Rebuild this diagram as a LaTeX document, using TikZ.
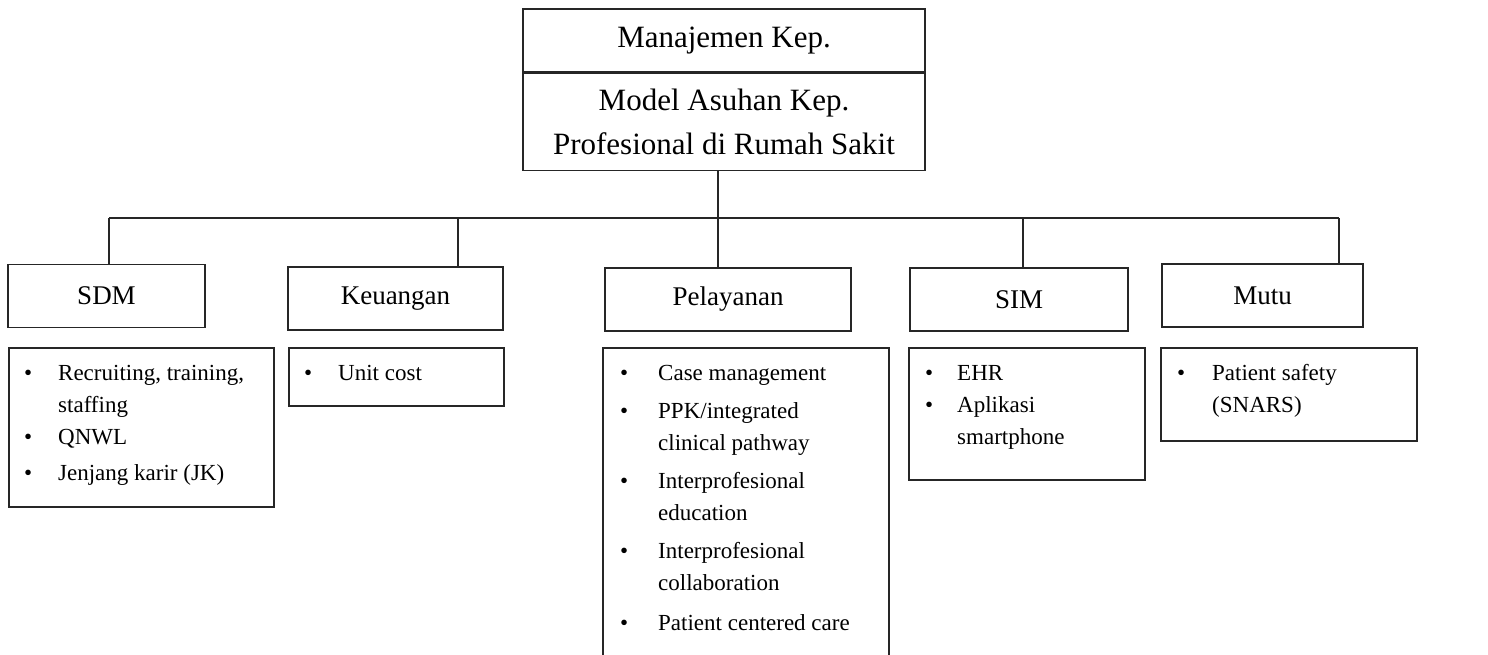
\documentclass[tikz,border=0pt]{standalone}
\usepackage{fontspec}
\setmainfont{Liberation Serif}
\usepackage{array}
\usetikzlibrary{positioning}

\begin{document}
\begin{tikzpicture}[x=1pt,y=-1pt]
    % Define styles
    \tikzstyle{head} = [rectangle, minimum width=402pt, text centered, align=center, draw=black!85, line width=1.5pt, font=\fontsize{31}{44}\selectfont]
    \tikzstyle{unit} = [rectangle, minimum height=63pt, text centered, draw=black!85, line width=1.5pt, font=\fontsize{27}{32}\selectfont]
    \tikzstyle{listbox} = [rectangle, anchor=north west, draw=black!85, line width=1.5pt]
    \tikzstyle{listtext} = [anchor=north west, inner sep=0pt, font=\fontsize{23}{32}\selectfont]
    \tikzstyle{line} = [draw=black!85, line width=1.5pt]

    \useasboundingbox (0,0) rectangle (1488,654);

    % Top box
    \node (mgmt) [head, minimum height=63pt, anchor=north] at (724,8) {Manajemen Kep.};
    \node (model) [head, minimum height=97pt, below=0pt of mgmt] {Model Asuhan Kep.\\Profesional di Rumah Sakit};

    % Units
    \node (sdm) [unit, minimum width=197pt] at (106.5,296) {SDM};
    \node (keu) [unit, minimum width=215pt] at (395.5,298.5) {Keuangan};
    \node (pel) [unit, minimum width=246pt] at (728,299.5) {Pelayanan};
    \node (sim) [unit, minimum width=218pt] at (1019,299.5) {SIM};
    \node (mutu) [unit, minimum width=201pt] at (1262.5,295.5) {Mutu};

    % Lists
    \node (sdmL) [listbox, minimum width=265pt, minimum height=159pt] at (8,347) {};
    \node (sdmT) [listtext] at ([xshift=16pt,yshift=-11pt]sdmL.north west) {\begin{tabular}{@{}p{22pt}l@{}}
        \textbullet & Recruiting, training,\\
                    & staffing\\
        \textbullet & QNWL\\[4pt]
        \textbullet & Jenjang karir (JK)
    \end{tabular}};
    \node (keuL) [listbox, minimum width=215pt, minimum height=58pt] at (288,347) {};
    \node (keuT) [listtext] at ([xshift=16pt,yshift=-11pt]keuL.north west) {\begin{tabular}{@{}p{22pt}l@{}}
        \textbullet & Unit cost
    \end{tabular}};
    \node (pelL) [listbox, minimum width=286pt, minimum height=340pt] at (602,347) {};
    \node (pelT) [listtext] at ([xshift=18pt,yshift=-11pt]pelL.north west) {\begin{tabular}{@{}p{26pt}l@{}}
        \textbullet & Case management\\[6pt]
        \textbullet & PPK/integrated\\
                    & clinical pathway\\[6pt]
        \textbullet & Interprofesional\\
                    & education\\[6pt]
        \textbullet & Interprofesional\\
                    & collaboration\\[8pt]
        \textbullet & Patient centered care
    \end{tabular}};
    \node (simL) [listbox, minimum width=236pt, minimum height=132pt] at (908,347) {};
    \node (simT) [listtext] at ([xshift=17pt,yshift=-11pt]simL.north west) {\begin{tabular}{@{}p{20pt}l@{}}
        \textbullet & EHR\\
        \textbullet & Aplikasi\\
                    & smartphone
    \end{tabular}};
    \node (mutuL) [listbox, minimum width=256pt, minimum height=93pt] at (1160,347) {};
    \node (mutuT) [listtext] at ([xshift=17pt,yshift=-11pt]mutuL.north west) {\begin{tabular}{@{}p{23pt}l@{}}
        \textbullet & Patient safety\\
                    & (SNARS)
    \end{tabular}};

    % Connectors
    \coordinate (barL) at (109,218);
    \coordinate (barR) at (1339,218);
    \coordinate (dk) at (458,218);
    \coordinate (ds) at (1023,218);
    \draw [line] (barL) -- (barR);
    \draw [line] ([xshift=-6pt]model.south) -- ([xshift=-6pt]model.south |- pel.north);
    \draw [line] (barL) -- (barL |- sdm.north);
    \draw [line] (dk) -- (dk |- keu.north);
    \draw [line] (ds) -- (ds |- sim.north);
    \draw [line] (barR) -- (barR |- mutu.north);
\end{tikzpicture}
\end{document}
